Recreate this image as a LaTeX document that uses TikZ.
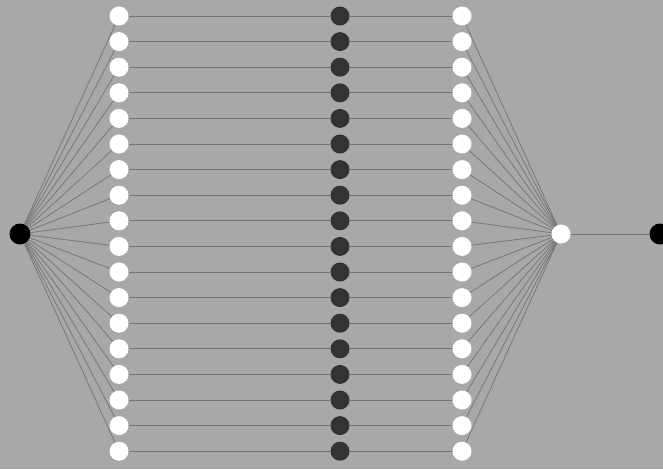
\documentclass[tikz,border=0pt]{standalone}
\usepackage{tikz}

\tikzset{
  unit/.style={circle,fill=white,inner sep=0pt,minimum size=19pt},
  hidden/.style={circle,fill=black!80,inner sep=0pt,minimum size=19pt},
  io/.style={circle,fill=black,inner sep=0pt,minimum size=21pt},
  wire/.style={draw=black!55,line width=0.7pt}
}

\begin{document}
\begin{tikzpicture}[x=1pt,y=-1pt]
  \useasboundingbox (0,0) rectangle (663,469);
  \clip (0,0) rectangle (663,469);
  \fill[black!34] (0,0) rectangle (663,469);
  % input and output ends
  \node[io] (src) at (20,234) {};
  \node[unit] (sum) at (561,234) {};
  \node[io] (out) at (660,234) {};
  % the three columns
  \foreach \i in {1,...,18} {
    \node[unit] (a\i) at (119,{16+25.6*(\i-1)}) {};
    \node[hidden] (h\i) at (340,{16+25.6*(\i-1)}) {};
    \node[unit] (b\i) at (462,{16+25.6*(\i-1)}) {};
    \draw[wire] (src) -- (a\i);
    \draw[wire] (a\i) -- (h\i);
    \draw[wire] (h\i) -- (b\i);
    \draw[wire] (b\i) -- (sum);
  }
  \draw[wire] (sum) -- (out);
\end{tikzpicture}
\end{document}
